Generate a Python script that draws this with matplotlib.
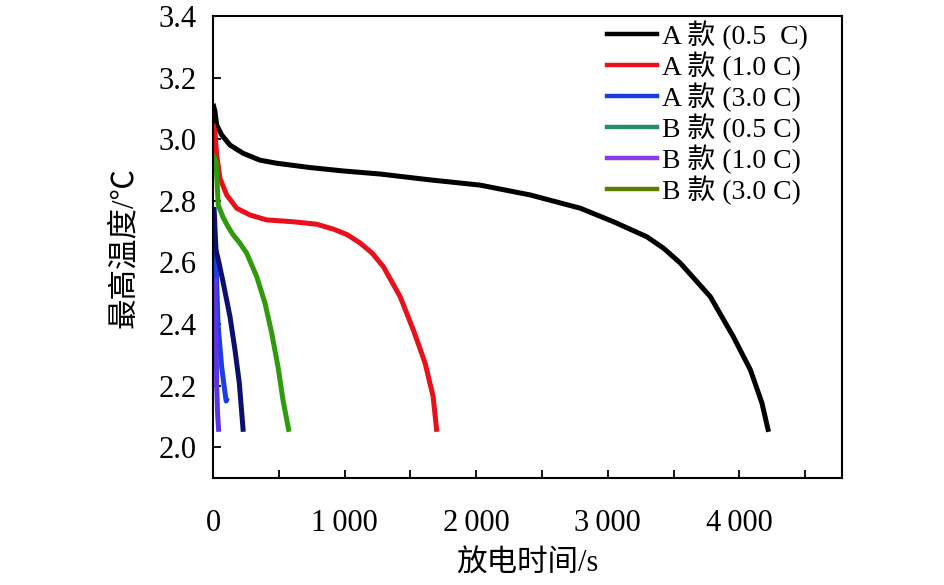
import matplotlib
matplotlib.use("Agg")
import matplotlib.pyplot as plt
from matplotlib.lines import Line2D
from matplotlib.ticker import FuncFormatter, MultipleLocator

plt.rcParams['font.family'] = ['Liberation Serif', 'Noto Sans CJK SC']
plt.rcParams['axes.unicode_minus'] = False

# discharge curves (time s, value)
a05_t = [0, 15, 28, 66, 129, 230, 357, 484, 738, 989, 1270, 1650, 2030, 2411,
         2791, 3044, 3298, 3424, 3551, 3779, 3954, 4084, 4172, 4222]
a05_v = [3.115, 3.09, 3.046, 3.014, 2.981, 2.954, 2.932, 2.922, 2.908, 2.897,
         2.887, 2.868, 2.851, 2.819, 2.776, 2.732, 2.683, 2.646, 2.598, 2.489,
         2.359, 2.251, 2.143, 2.05]

a10_t = [0, 15, 28, 53, 104, 180, 281, 408, 610, 788, 916, 1020, 1118, 1210,
         1295, 1422, 1523, 1612, 1673, 1701]
a10_v = [3.05, 3.024, 2.949, 2.873, 2.819, 2.776, 2.754, 2.738, 2.732, 2.724,
         2.708, 2.69, 2.663, 2.630, 2.586, 2.489, 2.38, 2.273, 2.164, 2.05]

a30_t = [20, 28, 38, 52, 66, 84, 100, 110]
a30_v = [2.64, 2.533, 2.40, 2.33, 2.26, 2.20, 2.15, 2.16]

b05_t = [8, 16, 23, 50, 78, 129, 167, 200, 230]
b05_v = [2.78, 2.70, 2.64, 2.59, 2.533, 2.424, 2.316, 2.208, 2.05]

b10_t = [15, 20, 24, 28, 36, 44]
b10_v = [2.55, 2.45, 2.35, 2.20, 2.10, 2.05]

b30_t = [0, 23, 40, 78, 116, 152, 200, 256, 332, 395, 446, 494, 532, 578]
b30_v = [2.95, 2.927, 2.786, 2.745, 2.715, 2.69, 2.665, 2.63, 2.554, 2.468,
         2.371, 2.261, 2.153, 2.05]

labels = ['A 款 (0.5  C)', 'A 款 (1.0 C)', 'A 款 (3.0 C)',
          'B 款 (0.5 C)', 'B 款 (1.0 C)', 'B 款 (3.0 C)']
line_colors = ['#000000', '#e8101a', '#1a3ee8', '#0b1070', '#5a35e8', '#2e9a0c']
legend_colors = ['#000000', '#e8101a', '#1a3ce0', '#2a8a70', '#8a3ae8', '#5e7d00']

series = [(a05_t, a05_v), (a10_t, a10_v), (a30_t, a30_v),
          (b05_t, b05_v), (b10_t, b10_v), (b30_t, b30_v)]

fig = plt.figure(figsize=(9.45, 5.85), dpi=100)
ax = fig.add_axes([0.2254, 0.1829, 0.6656, 0.7897])

for (t, v), c in zip(series, line_colors):
    ax.plot(t, v, color=c, lw=3.6, solid_capstyle='butt', solid_joinstyle='round')

ax.set_xlim(0, 4780)
ax.set_ylim(1.9, 3.4)
ax.xaxis.set_major_locator(MultipleLocator(500))
ax.yaxis.set_major_locator(MultipleLocator(0.2))


def fmt_x(x, pos):
    if x < 0 or round(x) % 1000 != 0:
        return ''
    n = int(round(x))
    if n == 0:
        return '0'
    return '{}\u2009{:03d}'.format(n // 1000, n % 1000)


def fmt_y(y, pos):
    if y < 1.95:
        return ''
    return '{:.1f}'.format(y)


ax.xaxis.set_major_formatter(FuncFormatter(fmt_x))
ax.yaxis.set_major_formatter(FuncFormatter(fmt_y))
ax.tick_params(direction='in', length=6, width=1.3, labelsize=22,
               top=False, right=False)
ax.tick_params(axis='x', pad=22)
ax.tick_params(axis='y', pad=12)
for s in ax.spines.values():
    s.set_linewidth(1.5)

ax.set_xlabel('放电时间/s', fontsize=22, labelpad=9)
ax.set_ylabel('最高温度/℃', fontsize=22, labelpad=14)

handles = [Line2D([0], [0], color=c, lw=3.2) for c in legend_colors]
ax.legend(handles, labels, loc='upper left', bbox_to_anchor=(0.626, 0.99),
          frameon=False, fontsize=20, handlelength=1.8, handletextpad=0.2,
          labelspacing=0.05, borderpad=0, borderaxespad=0)

fig.savefig('out.png', dpi=100)
